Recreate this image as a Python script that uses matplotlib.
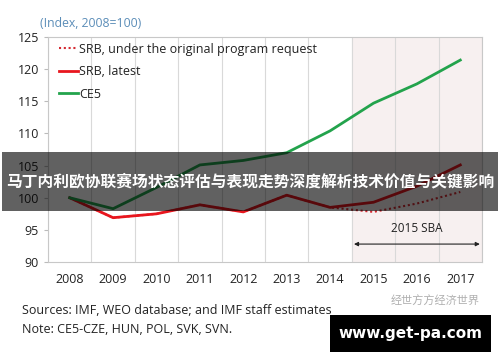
import matplotlib

matplotlib.use("Agg")

import matplotlib.pyplot as plt  # noqa: E402
import numpy as np  # noqa: E402
from matplotlib.patches import Rectangle  # noqa: E402

plt.rcParams["font.family"] = ["Open Sans", "Noto Sans CJK SC", "DejaVu Sans"]

years = ["2008", "2009", "2010", "2011", "2012", "2013", "2014", "2015", "2016", "2017"]
srb_original = [100.0, 96.9, 97.5, 98.9, 97.8, 100.4, 98.5, 97.8, 99.1, 100.9]
srb_latest = [100.0, 96.9, 97.5, 98.9, 97.8, 100.4, 98.5, 99.3, 101.8, 105.1]
ce5 = [100.0, 98.3, 101.6, 105.1, 105.8, 107.0, 110.4, 114.7, 117.7, 121.4]
yticks = [90, 95, 100, 105, 110, 115, 120, 125]

banner = "马丁内利欧协联赛场状态评估与表现走势深度解析技术价值与关键影响"

fig = plt.figure(figsize=(5.0, 3.62), dpi=100)
ax = fig.add_axes([0.096, 0.276, 0.868, 0.622])

x = np.arange(len(years))
ax.axvspan(6.5, 9.5, color="#f7f0f0", zorder=0)
for b in np.arange(-0.5, 10, 1):
    ax.axvline(b, color="#d9d9d9", lw=0.8, zorder=1)

ax.plot(x, srb_original, color="#d42a32", lw=1.5, ls=(0, (1, 1.3)), zorder=3,
        label="SRB, under the original program request")
ax.plot(x, srb_latest, color="#e8161e", lw=2, zorder=4, label="SRB, latest")
ax.plot(x, ce5, color="#23a34c", lw=2, zorder=4, label="CE5")

ax.set_xlim(-0.5, 9.5)
ax.set_ylim(90, 125)
ax.set_xticks(x)
ax.set_xticklabels(years)
ax.set_yticks(yticks)
ax.tick_params(axis="x", length=0, pad=8, labelsize=9, colors="#222222")
ax.tick_params(axis="y", length=3, color="#bbbbbb", labelsize=9, colors="#222222")
for spine in ax.spines.values():
    spine.set_color("#c8c8c8")
    spine.set_linewidth(0.8)

ax.annotate("", xy=(9.45, 92.8), xytext=(6.55, 92.8),
            arrowprops=dict(arrowstyle="<|-|>", color="#222222", lw=0.8,
                            mutation_scale=6, shrinkA=0, shrinkB=0))
ax.text(8.0, 95.2, "2015 SBA", ha="center", va="center", fontsize=8.5, color="#222222")

leg = ax.legend(loc="upper left", frameon=False, fontsize=9.0, handlelength=1.5,
                handletextpad=0.1, borderaxespad=0.0, borderpad=0.2,
                labelspacing=0.75, bbox_to_anchor=(0.02, 0.985))
for t in leg.get_texts():
    t.set_color("#222222")

fig.text(0.08, 0.925, "(Index, 2008=100)", fontsize=8.8, color="#5b8db8", ha="left")
fig.text(0.044, 0.132, "Sources: IMF, WEO database; and IMF staff estimates",
         fontsize=9, color="#222222")
fig.text(0.044, 0.08, "Note: CE5-CZE, HUN, POL, SVK, SVN.", fontsize=9, color="#222222")

# overlay banner and watermark
fig.patches.append(Rectangle((0.004, 0.417), 0.992, 0.163, transform=fig.transFigure,
                             facecolor="black", alpha=0.62, zorder=10))
fig.text(0.5, 0.498, banner, ha="center", va="center", fontsize=11.3, color="white",
         fontweight="bold", family=["Noto Sans CJK SC", "DejaVu Sans"], zorder=11)
fig.text(0.87, 0.17, "经世方方经济世界", ha="center", va="center", fontsize=8,
         color="#b0b0b0", family=["Noto Sans CJK SC", "DejaVu Sans"], zorder=11)
fig.patches.append(Rectangle((0.66, 0.027), 0.322, 0.102, transform=fig.transFigure,
                             facecolor="black", zorder=10))
fig.text(0.82, 0.08, "www.get-pa.com", ha="center", va="center", fontsize=11,
         color="white", fontweight="bold", family=["DejaVu Sans"], zorder=11)

fig.savefig("out.png", dpi=100, facecolor="white")
